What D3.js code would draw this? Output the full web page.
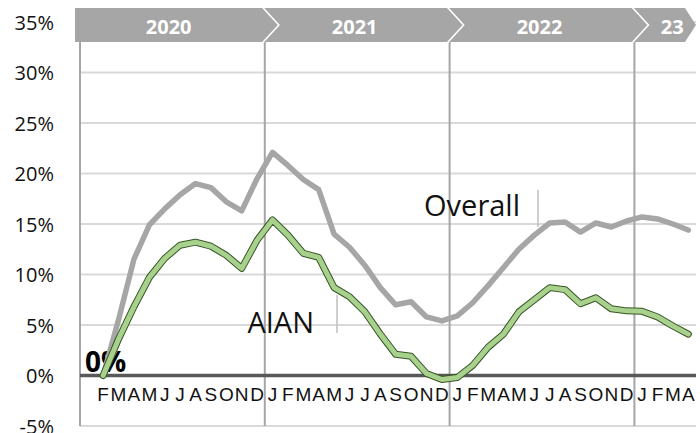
<!DOCTYPE html>
<html>
<head>
<meta charset="utf-8">
<script src="https://cdn.jsdelivr.net/npm/d3@7"></script>
<style>
  html, body { margin: 0; padding: 0; background: #fff; }
  svg { display: block; }
</style>
</head>
<body>
<svg id="chart" width="700" height="433"></svg>
<script>
// ---- data ----
const categories = [
  "2020-01","2020-02","2020-03","2020-04","2020-05","2020-06","2020-07","2020-08","2020-09","2020-10","2020-11","2020-12",
  "2021-01","2021-02","2021-03","2021-04","2021-05","2021-06","2021-07","2021-08","2021-09","2021-10","2021-11","2021-12",
  "2022-01","2022-02","2022-03","2022-04","2022-05","2022-06","2022-07","2022-08","2022-09","2022-10","2022-11","2022-12",
  "2023-01","2023-02","2023-03","2023-04"
];
const monthLabels = [
  "", "F","M","A","M","J","J","A","S","O","N","D",
  "J","F","M","A","M","J","J","A","S","O","N","D",
  "J","F","M","A","M","J","J","A","S","O","N","D",
  "J","F","M","A"
];
const overall = [
  null, 0, 5.5, 11.5, 14.9, 16.5, 17.9, 19.0, 18.6, 17.2, 16.3, 19.5,
  22.1, 20.8, 19.4, 18.4, 14.0, 12.7, 10.9, 8.7, 7.0, 7.3, 5.8, 5.4,
  5.9, 7.2, 8.9, 10.7, 12.5, 13.9, 15.1, 15.2, 14.2, 15.1, 14.7, 15.3,
  15.7, 15.5, 15.0, 14.4
];
const aian = [
  null, 0, 3.6, 6.8, 9.7, 11.6, 12.9, 13.2, 12.8, 11.9, 10.6, 13.4,
  15.4, 13.9, 12.1, 11.7, 8.7, 7.8, 6.3, 4.1, 2.1, 1.9, 0.2, -0.4,
  -0.2, 1.0, 2.8, 4.1, 6.3, 7.5, 8.7, 8.5, 7.1, 7.7, 6.6, 6.4,
  6.35, 5.8, 4.9, 4.1
];
const yTicks = [-5, 0, 5, 10, 15, 20, 25, 30, 35];
const yearLabels = ["2020", "2021", "2022", "23"];
const yearStarts = ["2020-01", "2021-01", "2022-01", "2023-01"];

// ---- layout ----
const svg = d3.select("#chart");
const plotL = 80, plotR = 696, plotT = 22, plotB = 426;
const bannerTop = 8, bannerBot = 42, bannerMid = 25;

const x = d3.scaleBand().domain(categories).range([plotL, plotR]).paddingInner(0).paddingOuter(0);
const y = d3.scaleLinear().domain([-5, 35]).range([plotB, plotT]);
const cx = c => x(c) + x.bandwidth() / 2;

const fontMain = "'Open Sans', 'Noto Sans', sans-serif";

// horizontal gridlines
svg.append("g").selectAll("line").data(yTicks.filter(t => t !== 0)).join("line")
  .attr("x1", plotL).attr("x2", plotR)
  .attr("y1", d => y(d)).attr("y2", d => y(d))
  .attr("stroke", "#d9d9d9").attr("stroke-width", 2);

// y tick labels
svg.append("g").selectAll("text").data(yTicks).join("text")
  .attr("x", 54).attr("y", d => y(d))
  .attr("text-anchor", "end").attr("dominant-baseline", "central")
  .attr("font-family", fontMain).attr("font-size", 20).attr("fill", "#111")
  .text(d => d + "%");

// vertical year separators + left axis
const boundaries = yearStarts.map(c => x(c));
svg.append("g").selectAll("line").data(boundaries).join("line")
  .attr("x1", d => d).attr("x2", d => d)
  .attr("y1", bannerBot).attr("y2", plotB)
  .attr("stroke", "#a6a6a6").attr("stroke-width", 2);

// banner
const bannerLeft = 75, bannerEnd = 685, bannerTip = 696;
svg.append("polygon")
  .attr("points", [[bannerLeft, bannerTop], [bannerEnd, bannerTop], [bannerTip, bannerMid], [bannerEnd, bannerBot], [bannerLeft, bannerBot]].map(p => p.join(",")).join(" "))
  .attr("fill", "#a6a6a6");
svg.append("g").selectAll("polyline").data(boundaries.slice(1)).join("polyline")
  .attr("points", b => `${b - 2.5},${bannerTop - 1} ${b + 14},${bannerMid} ${b - 2.5},${bannerBot + 1}`)
  .attr("fill", "none").attr("stroke", "#fff").attr("stroke-width", 1.6);
svg.append("g").selectAll("text").data(yearLabels).join("text")
  .attr("x", (d, i) => {
    if (i === yearLabels.length - 1) return (boundaries[i] + 14 + bannerTip) / 2;
    const l = i === 0 ? bannerLeft : boundaries[i] - 2.5;
    const r = boundaries[i + 1] - 2.5;
    return (l + r) / 2;
  })
  .attr("y", bannerMid + 1)
  .attr("text-anchor", "middle").attr("dominant-baseline", "central")
  .attr("font-family", fontMain).attr("font-weight", "bold").attr("font-size", 20).attr("fill", "#fff")
  .text(d => d);

// month labels
svg.append("g").selectAll("text").data(categories).join("text")
  .attr("x", d => cx(d)).attr("y", 400.5)
  .attr("text-anchor", "middle")
  .attr("font-family", "'Liberation Sans', Arial, sans-serif").attr("font-size", 19).attr("fill", "#111")
  .text((d, i) => monthLabels[i]);

// zero line
svg.append("line")
  .attr("x1", plotL).attr("x2", plotR).attr("y1", y(0)).attr("y2", y(0))
  .attr("stroke", "#595959").attr("stroke-width", 3.5);

// labels and leader lines
svg.append("text").attr("x", 85).attr("y", 372)
  .attr("font-family", fontMain).attr("font-weight", "bold").attr("font-size", 28).attr("fill", "#000")
  .text("0%");
svg.append("text").attr("x", 520).attr("y", 216).attr("text-anchor", "end")
  .attr("font-family", fontMain).attr("font-size", 29).attr("fill", "#111").text("Overall");
svg.append("line").attr("x1", 538).attr("x2", 538).attr("y1", 190).attr("y2", 227)
  .attr("stroke", "#bfbfbf").attr("stroke-width", 1.5);
svg.append("text").attr("x", 314).attr("y", 333).attr("text-anchor", "end")
  .attr("font-family", fontMain).attr("font-size", 29).attr("fill", "#111").text("AIAN");
svg.append("line").attr("x1", 337).attr("x2", 337).attr("y1", 295).attr("y2", 333)
  .attr("stroke", "#bfbfbf").attr("stroke-width", 1.5);

// lines
const line = vals => d3.line()
  .defined((d, i) => vals[i] !== null)
  .x((d, i) => cx(categories[i]))
  .y((d, i) => y(vals[i]))(vals);

svg.append("path").attr("d", line(overall))
  .attr("fill", "none").attr("stroke", "#a6a6a6").attr("stroke-width", 5.5)
  .attr("stroke-linejoin", "round").attr("stroke-linecap", "round");
svg.append("path").attr("d", line(aian))
  .attr("fill", "none").attr("stroke", "#375623").attr("stroke-width", 7)
  .attr("stroke-linejoin", "round").attr("stroke-linecap", "round");
svg.append("path").attr("d", line(aian))
  .attr("fill", "none").attr("stroke", "#a9d18e").attr("stroke-width", 5)
  .attr("stroke-linejoin", "round").attr("stroke-linecap", "round");
</script>
</body>
</html>
